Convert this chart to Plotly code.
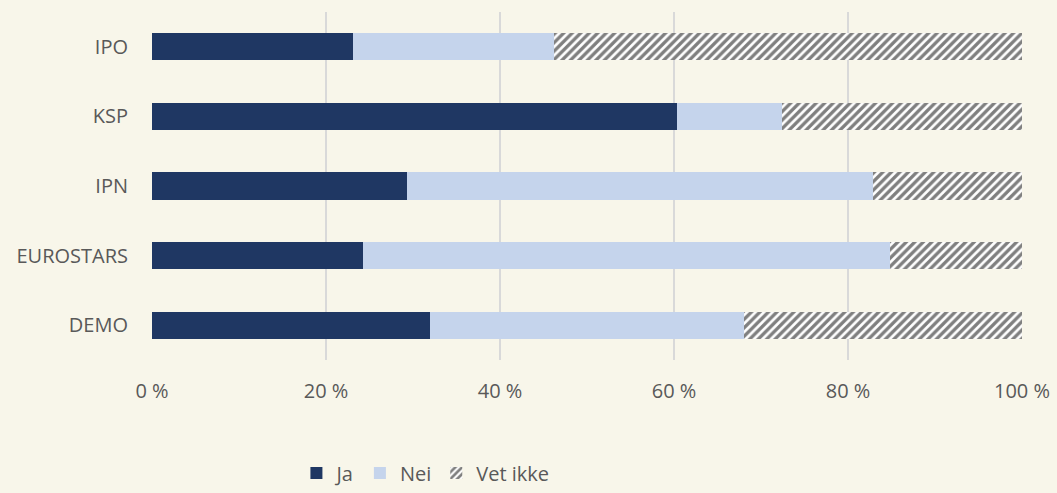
import plotly.graph_objects as go

categories = ["IPO", "KSP", "IPN", "EUROSTARS", "DEMO"]
ja = [23.1, 60.3, 29.3, 24.3, 32.0]
nei = [23.1, 12.1, 53.6, 60.5, 36.0]
vet_ikke = [53.8, 27.6, 17.1, 15.2, 32.0]
tick_vals = [0, 20, 40, 60, 80, 100]
tick_text = ["0 %", "20 %", "40 %", "60 %", "80 %", "100 %"]

BG = "#F8F6EA"
fig = go.Figure()
fig.add_trace(go.Bar(y=categories, x=ja, name="Ja", orientation="h",
                     marker=dict(color="#1F3763", line=dict(width=0)), width=0.39))
fig.add_trace(go.Bar(y=categories, x=nei, name="Nei", orientation="h",
                     marker=dict(color="#C5D4EC", line=dict(width=0)), width=0.39))
fig.add_trace(go.Bar(y=categories, x=vet_ikke, name="Vet ikke", orientation="h",
                     marker=dict(color="white", line=dict(width=0),
                                 pattern=dict(shape="/", fgcolor="black", bgcolor="white",
                                              size=6, solidity=0.55)),
                     width=0.39))

fig.update_layout(
    barmode="stack",
    width=1057, height=493,
    paper_bgcolor=BG, plot_bgcolor=BG,
    margin=dict(l=152, r=35, t=12, b=133, autoexpand=False),
    font=dict(family="Open Sans", size=20, color="#595959"),
    xaxis=dict(range=[0, 100], tickvals=tick_vals, ticktext=tick_text,
               showgrid=True, gridcolor="#D9D9D9", gridwidth=2,
               zeroline=False, showline=False, ticks="", ticklabelstandoff=17,
               automargin=False),
    yaxis=dict(categoryorder="array", categoryarray=categories[::-1],
               showgrid=False, zeroline=False, showline=False, ticks="",
               ticklabelstandoff=23, automargin=False),
    legend=dict(orientation="h", x=0.166, xanchor="left", y=-0.325, yanchor="middle",
                font=dict(size=20, color="#595959"), traceorder="normal",
                bgcolor="rgba(0,0,0,0)"),
    showlegend=True,
)
fig.write_html("out.html", config={"displayModeBar": False},
               post_script="document.body.style.margin='0';document.body.style.background='#F8F6EA';")
